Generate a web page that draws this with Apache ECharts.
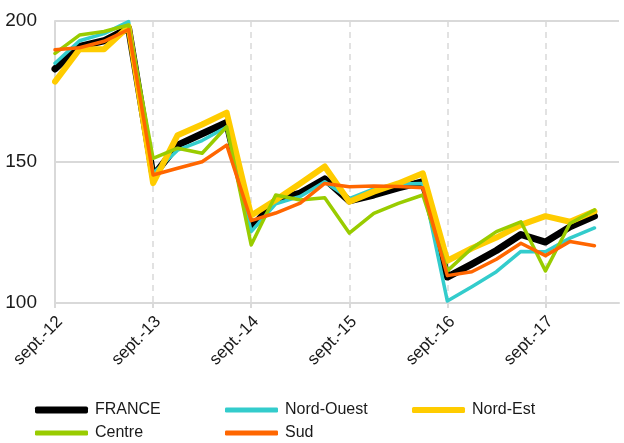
<!DOCTYPE html>
<html>
<head>
<meta charset="utf-8">
<script src="https://cdn.jsdelivr.net/npm/echarts@6/dist/echarts.min.js"></script>
<style>
  html, body { margin: 0; padding: 0; background: #fff; }
  #chart { width: 624px; height: 443px; }
</style>
</head>
<body>
<div id="chart"></div>
<script>
// trimestres, de sept.-12 à juin-18
const quarters = [
  'sept.-12', 'déc.-12', 'mars-13', 'juin-13',
  'sept.-13', 'déc.-13', 'mars-14', 'juin-14',
  'sept.-14', 'déc.-14', 'mars-15', 'juin-15',
  'sept.-15', 'déc.-15', 'mars-16', 'juin-16',
  'sept.-16', 'déc.-16', 'mars-17', 'juin-17',
  'sept.-17', 'déc.-17', 'mars-18', 'juin-18'
]

const france = [183, 191, 193, 197.5, 145, 156, 160, 164, 126.5, 136.5, 139, 144, 136.2, 138.3, 140.8, 143, 109.2, 113.8, 118.6, 124.3, 121.6, 127, 130.8]
const nordOuest = [185, 193, 195.5, 199.8, 146, 154.2, 157.6, 162.4, 125.3, 135.2, 137.8, 143, 137, 140.5, 142.2, 142.4, 100.7, 105.8, 111.1, 118.3, 118.2, 123, 126.6]
const nordEst = [178.5, 190, 190, 198, 142.5, 159.5, 163.3, 167.5, 131, 136.5, 142.4, 148.4, 135.9, 139.5, 142.4, 146, 115, 119.4, 123.2, 127.7, 130.8, 128.8, 132.5]
const centre = [188.5, 195, 196.3, 198.6, 151.3, 154.9, 153.1, 162.5, 120.6, 138.3, 136.5, 137.3, 124.8, 131.8, 135.3, 138.3, 111.4, 119.4, 125.3, 128.8, 111.4, 128.2, 133]
const sud = [189.8, 190.5, 192.8, 197, 145.4, 147.8, 150.1, 156, 129.2, 131.9, 135.4, 142.4, 141.2, 141.5, 141.3, 140.9, 109.7, 111.1, 115.5, 121.2, 116.8, 121.8, 120.3]

const yTicks = { min: 100, max: 200, step: 50 }

const chart = echarts.init(document.getElementById('chart'))
const font = "'Liberation Sans', Arial, sans-serif"
const gridColor = '#d9d9d9'

function makeSeries (name, data, color, width) {
  return {
    name: name,
    type: 'line',
    data: data,
    color: color,
    showSymbol: false,
    symbol: 'none',
    lineStyle: { color: color, width: width, cap: 'round', join: 'round' }
  }
}

function makeLegend (name, left, top, height) {
  return {
    data: [name],
    left: left,
    top: top,
    icon: 'roundRect',
    itemWidth: 53,
    itemHeight: height,
    itemGap: 0,
    padding: 0,
    textStyle: { fontFamily: font, fontSize: 16, color: '#1a1a1a', padding: [0, 0, 0, 2] }
  }
}

const option = {
  animation: false,
  grid: { left: 55, right: 5, top: 21, bottom: 140 },
  legend: [
    makeLegend('FRANCE', 35, 402, 7),
    makeLegend('Nord-Ouest', 225, 402, 5),
    makeLegend('Nord-Est', 412, 402, 6),
    makeLegend('Centre', 35, 425, 5),
    makeLegend('Sud', 225, 425, 5)
  ],
  xAxis: {
    type: 'category',
    data: quarters,
    boundaryGap: false,
    axisLine: { lineStyle: { color: gridColor, width: 2 } },
    axisTick: { interval: 3, length: 5, lineStyle: { color: gridColor, width: 2 } },
    axisLabel: {
      interval: 3,
      rotate: 45,
      margin: 21,
      padding: [0, -7, 0, 0],
      fontFamily: font,
      fontSize: 17,
      color: '#1a1a1a'
    },
    splitLine: {
      show: true,
      interval: 3,
      lineStyle: { color: gridColor, width: 1.5, type: [6, 5] }
    }
  },
  yAxis: {
    type: 'value',
    min: yTicks.min,
    max: yTicks.max,
    interval: yTicks.step,
    axisLine: { show: true, lineStyle: { color: gridColor, width: 2 } },
    axisTick: { show: false },
    axisLabel: { margin: 18, fontFamily: font, fontSize: 19, color: '#1a1a1a' },
    splitLine: { lineStyle: { color: gridColor, width: 2 } }
  },
  series: [
    makeSeries('FRANCE', france, '#000000', 7),
    makeSeries('Nord-Ouest', nordOuest, '#33cccc', 3.5),
    makeSeries('Nord-Est', nordEst, '#ffcc00', 6),
    makeSeries('Centre', centre, '#99cc00', 3.5),
    makeSeries('Sud', sud, '#ff6600', 3.5)
  ]
}

chart.setOption(option)
</script>
</body>
</html>
